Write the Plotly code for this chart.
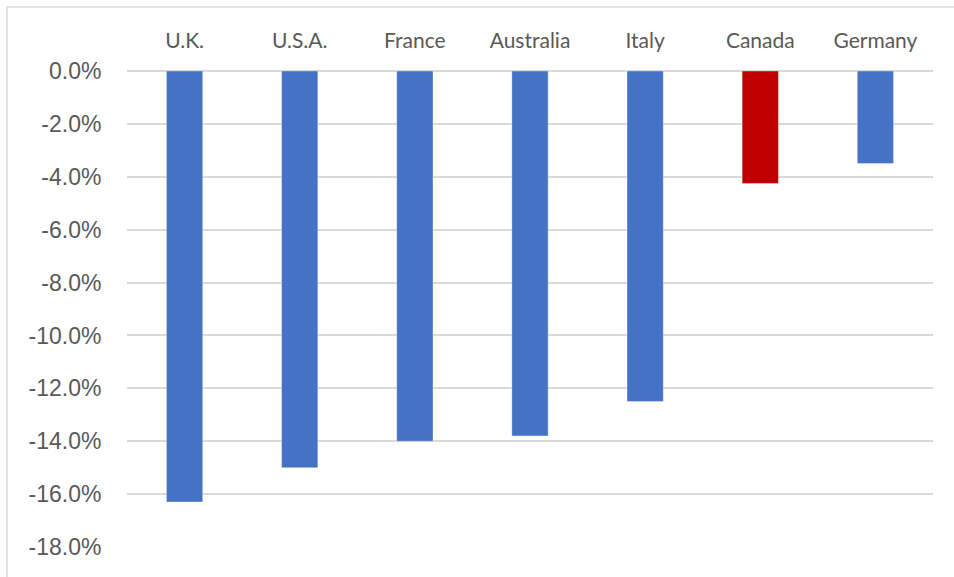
import plotly.graph_objects as go

countries = ["U.K.", "U.S.A.", "France", "Australia", "Italy", "Canada", "Germany"]
change_pct = [-16.3, -15.0, -14.0, -13.8, -12.5, -4.25, -3.5]
bar_colors = ["#4472C4", "#4472C4", "#4472C4", "#4472C4", "#4472C4", "#C00000", "#4472C4"]
y_ticks = [0, -2, -4, -6, -8, -10, -12, -14, -16, -18]
y_tick_labels = [f"{v:.1f}%" for v in y_ticks]

W, H = 954, 577
L, R, T, B = 127, 21, 71, 30
pw, ph = W - L - R, H - T - B

fig = go.Figure(
    go.Bar(
        x=countries,
        y=change_pct,
        marker=dict(color=bar_colors, line=dict(color="rgba(255,255,255,0.35)", width=1)),
        width=0.315,
        hoverinfo="x+y",
    )
)

# light frame around the chart area (extends past right/bottom edges)
fx0 = (7 - L) / pw
fy1 = (H - B - 7) / ph
fig.add_shape(type="rect", xref="paper", yref="paper",
              x0=fx0, x1=(W + 10 - L) / pw, y0=-(B + 10) / ph, y1=fy1,
              line=dict(color="#D9D9D9", width=1.5), layer="below")

fig.update_layout(
    width=W, height=H,
    margin=dict(l=L, r=R, t=T, b=B),
    plot_bgcolor="white", paper_bgcolor="white",
    showlegend=False,
    bargap=0.685,
    xaxis=dict(
        side="top", showgrid=False, showline=False, zeroline=False,
        tickfont=dict(family="Lato, Open Sans, sans-serif", size=21, color="#595959"),
        ticks="outside", ticklen=14, tickcolor="rgba(0,0,0,0)",
        fixedrange=True,
    ),
    yaxis=dict(
        range=[-18, 0], tickvals=y_ticks, ticktext=y_tick_labels,
        showgrid=True, gridcolor="#D9D9D9", gridwidth=1.5,
        zeroline=True, zerolinecolor="#D9D9D9", zerolinewidth=1.5,
        showline=False,
        tickfont=dict(family="Liberation Sans, Arial, sans-serif", size=23, color="#595959"),
        ticks="outside", ticklen=20, tickcolor="rgba(0,0,0,0)",
        fixedrange=True,
    ),
)

fig.write_html("out.html")
